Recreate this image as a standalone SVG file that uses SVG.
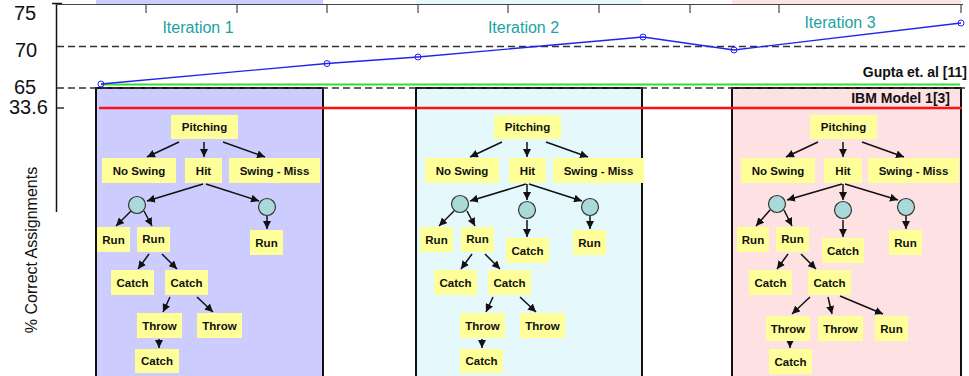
<svg xmlns="http://www.w3.org/2000/svg" width="969" height="376" viewBox="0 0 969 376">
<style>
.nd rect{fill:#ffff99;stroke:none}
.nd text{font-family:"Liberation Sans",Arial,sans-serif;font-weight:bold;font-size:11.5px;fill:#111;text-anchor:middle}
.cir{fill:#a9d9d9;stroke:#333;stroke-width:1.2}
.ar line{stroke:#111;stroke-width:1.5;marker-end:url(#ah)}
.ax{font-family:"Liberation Sans",Arial,sans-serif;font-size:20px;fill:#111}
.it{font-family:"Liberation Sans",Arial,sans-serif;font-size:16px;fill:#1aa3a3;text-anchor:middle}
.bl{font-family:"Liberation Sans",Arial,sans-serif;font-size:14px;font-weight:bold;fill:#111;text-anchor:end}
.dash{stroke:#333;stroke-width:1.5;stroke-dasharray:7 4}
.tick{stroke:#444;stroke-width:1.2}
.pt{fill:none;stroke:#2222ff;stroke-width:1}
</style>
<defs>
<marker id="ah" markerUnits="userSpaceOnUse" markerWidth="9" markerHeight="8" refX="8" refY="4" orient="auto">
<path d="M0,0 L8,4 L0,8 Z" fill="#111"/>
</marker>
</defs>
<rect width="969" height="376" fill="#fff"/>

<!-- panels -->
<g id="panels">
<rect x="96" y="88" width="227" height="290" fill="#ccccff" stroke="#111" stroke-width="2"/>
<rect x="416" y="88" width="226" height="290" fill="#e5f8fb" stroke="#111" stroke-width="2"/>
<rect x="732" y="88" width="229" height="290" fill="#fde1e3" stroke="#111" stroke-width="2"/>
<rect x="96" y="0" width="227" height="4" fill="#ccccff"/>
<rect x="416" y="0" width="226" height="4" fill="#e5f8fb"/>
<rect x="732" y="0" width="229" height="4" fill="#fde1e3"/>
</g>

<!-- chart axes -->
<g id="axes">
<line x1="56.5" y1="3" x2="56.5" y2="212" stroke="#111" stroke-width="1.5"/>
<line x1="52" y1="3.5" x2="62" y2="3.5" stroke="#111" stroke-width="1.5"/>
<line x1="56" y1="4.5" x2="963" y2="4.5" stroke="#444" stroke-width="1.2"/>
<line x1="56" y1="108" x2="64" y2="108" stroke="#111" stroke-width="1.3"/>
<line class="tick" x1="146" y1="4" x2="146" y2="13"/>
<line class="tick" x1="237" y1="4" x2="237" y2="13"/>
<line class="tick" x1="327" y1="4" x2="327" y2="13"/>
<line class="tick" x1="418" y1="4" x2="418" y2="13"/>
<line class="tick" x1="508" y1="4" x2="508" y2="13"/>
<line class="tick" x1="599" y1="4" x2="599" y2="13"/>
<line class="tick" x1="690" y1="4" x2="690" y2="13"/>
<line class="tick" x1="779" y1="4" x2="779" y2="13"/>
<line class="tick" x1="961" y1="4" x2="961" y2="13"/>
<text class="ax" x="14" y="20">75</text>
<text class="ax" x="15" y="57">70</text>
<text class="ax" x="14" y="94">65</text>
<text class="ax" x="9" y="114">33.6</text>
<text transform="translate(36.5,250) rotate(-90)" font-family="Liberation Sans, Arial, sans-serif" font-size="16" fill="#111" text-anchor="middle">% Correct Assignments</text>
</g>

<g id="reference-lines">
<line class="dash" x1="57" y1="46.5" x2="965" y2="46.5"/>
<line class="dash" x1="57" y1="88" x2="965" y2="88"/>
<line x1="101" y1="84.5" x2="960" y2="84.5" stroke="#33dd33" stroke-width="1.8"/>
<line x1="99" y1="108" x2="962" y2="108" stroke="#ff1111" stroke-width="2.5"/>
<text class="bl" x="967" y="77">Gupta et. al [11]</text>
<text class="bl" x="950" y="103">IBM Model 1[3]</text>
</g>

<g id="series">
<polyline points="101,84 327,63.5 418,57 643,37 734,50 961,23" fill="none" stroke="#2222ee" stroke-width="1.3"/>
<circle class="pt" cx="101" cy="84" r="3"/>
<circle class="pt" cx="327" cy="63.5" r="3"/>
<circle class="pt" cx="418" cy="57" r="3"/>
<circle class="pt" cx="643" cy="37" r="3"/>
<circle class="pt" cx="734" cy="50" r="3"/>
<circle class="pt" cx="961" cy="23" r="3"/>
</g>

<g id="iteration-labels">
<text class="it" x="198" y="33">Iteration 1</text>
<text class="it" x="523.5" y="33">Iteration 2</text>
<text class="it" x="840" y="28">Iteration 3</text>
</g>

<!-- connectors -->
<g id="connectors" class="ar">
<!-- panel 1 -->
<line x1="179" y1="142" x2="147" y2="157"/>
<line x1="204" y1="142" x2="204" y2="157"/>
<line x1="223" y1="142" x2="265" y2="157"/>
<line x1="203" y1="184" x2="147" y2="201"/>
<line x1="206" y1="184" x2="259" y2="201"/>
<line x1="131" y1="211" x2="116" y2="226"/>
<line x1="144" y1="211" x2="152" y2="226"/>
<line x1="267" y1="216" x2="267" y2="229"/>
<line x1="149" y1="254" x2="138" y2="269"/>
<line x1="162" y1="254" x2="177" y2="269"/>
<line x1="170" y1="297" x2="163" y2="312"/>
<line x1="197" y1="297" x2="213" y2="312"/>
<line x1="159" y1="339" x2="159" y2="348"/>
<!-- panel 2 -->
<line x1="502" y1="142" x2="470" y2="157"/>
<line x1="527" y1="142" x2="527" y2="157"/>
<line x1="546" y1="142" x2="588" y2="157"/>
<line x1="526" y1="184" x2="470" y2="201"/>
<line x1="527" y1="184" x2="527" y2="200"/>
<line x1="529" y1="184" x2="582" y2="201"/>
<line x1="527" y1="220" x2="527" y2="237"/>
<line x1="454" y1="211" x2="439" y2="226"/>
<line x1="467" y1="211" x2="475" y2="226"/>
<line x1="590" y1="216" x2="590" y2="229"/>
<line x1="472" y1="254" x2="461" y2="269"/>
<line x1="485" y1="254" x2="500" y2="269"/>
<line x1="493" y1="297" x2="486" y2="312"/>
<line x1="520" y1="297" x2="536" y2="312"/>
<line x1="482" y1="339" x2="482" y2="348"/>
<!-- panel 3 -->
<line x1="818" y1="142" x2="786" y2="157"/>
<line x1="843" y1="142" x2="843" y2="157"/>
<line x1="862" y1="142" x2="904" y2="157"/>
<line x1="842" y1="184" x2="787" y2="200"/>
<line x1="843" y1="184" x2="843" y2="200"/>
<line x1="845" y1="184" x2="898" y2="200"/>
<line x1="843" y1="220" x2="843" y2="237"/>
<line x1="770" y1="210" x2="756" y2="226"/>
<line x1="784" y1="210" x2="792" y2="226"/>
<line x1="906" y1="216" x2="906" y2="229"/>
<line x1="788" y1="254" x2="777" y2="269"/>
<line x1="801" y1="254" x2="816" y2="269"/>
<line x1="810" y1="297" x2="792" y2="314"/>
<line x1="828" y1="297" x2="832" y2="314"/>
<line x1="840" y1="296" x2="883" y2="314"/>
<line x1="790" y1="341" x2="790" y2="348"/>
</g>

<!-- panel 1 nodes -->
<g id="p1-pitching" class="nd"><rect x="171" y="115" width="67" height="24"/><text x="204.5" y="131">Pitching</text></g>
<g id="p1-noswing" class="nd"><rect x="102" y="158" width="74" height="25"/><text x="139" y="174.5">No Swing</text></g>
<g id="p1-hit" class="nd"><rect x="185" y="158" width="37" height="25"/><text x="203.5" y="174.5">Hit</text></g>
<g id="p1-swingmiss" class="nd"><rect x="229" y="158" width="91" height="25"/><text x="274.5" y="174.5">Swing - Miss</text></g>
<g id="p1-c1"><circle class="cir" cx="137" cy="205" r="8.5"/></g>
<g id="p1-c2"><circle class="cir" cx="267" cy="207" r="8.5"/></g>
<g id="p1-run1" class="nd"><rect x="97" y="227" width="33" height="25"/><text x="113.5" y="243.5">Run</text></g>
<g id="p1-run2" class="nd"><rect x="137" y="227" width="33" height="25"/><text x="153.5" y="242.5">Run</text></g>
<g id="p1-run3" class="nd"><rect x="250" y="230" width="33" height="25"/><text x="266.5" y="246.5">Run</text></g>
<g id="p1-catch1" class="nd"><rect x="111" y="270" width="43" height="25"/><text x="132.5" y="286.5">Catch</text></g>
<g id="p1-catch2" class="nd"><rect x="165" y="270" width="43" height="25"/><text x="186.5" y="286.5">Catch</text></g>
<g id="p1-throw1" class="nd"><rect x="137" y="313" width="45" height="25"/><text x="159.5" y="329.5">Throw</text></g>
<g id="p1-throw2" class="nd"><rect x="197" y="313" width="45" height="25"/><text x="219.5" y="329.5">Throw</text></g>
<g id="p1-catch3" class="nd"><rect x="135" y="349" width="44" height="24"/><text x="157" y="365">Catch</text></g>

<!-- panel 2 nodes -->
<g id="p2-pitching" class="nd"><rect x="494" y="115" width="67" height="24"/><text x="527.5" y="131">Pitching</text></g>
<g id="p2-noswing" class="nd"><rect x="425" y="158" width="74" height="25"/><text x="462" y="174.5">No Swing</text></g>
<g id="p2-hit" class="nd"><rect x="509" y="158" width="37" height="25"/><text x="527.5" y="174.5">Hit</text></g>
<g id="p2-swingmiss" class="nd"><rect x="553" y="158" width="91" height="25"/><text x="598.5" y="174.5">Swing - Miss</text></g>
<g id="p2-c1"><circle class="cir" cx="460" cy="204" r="8.5"/></g>
<g id="p2-c2"><circle class="cir" cx="527" cy="210" r="8.5"/></g>
<g id="p2-c3"><circle class="cir" cx="590" cy="207" r="8.5"/></g>
<g id="p2-run1" class="nd"><rect x="420" y="227" width="33" height="25"/><text x="436.5" y="243.5">Run</text></g>
<g id="p2-run2" class="nd"><rect x="461" y="227" width="33" height="25"/><text x="477.5" y="242.5">Run</text></g>
<g id="p2-catchmid" class="nd"><rect x="506" y="238" width="43" height="25"/><text x="527.5" y="254.5">Catch</text></g>
<g id="p2-run3" class="nd"><rect x="573" y="230" width="33" height="25"/><text x="589.5" y="246.5">Run</text></g>
<g id="p2-catch1" class="nd"><rect x="434" y="270" width="43" height="25"/><text x="455.5" y="286.5">Catch</text></g>
<g id="p2-catch2" class="nd"><rect x="488" y="270" width="43" height="25"/><text x="509.5" y="286.5">Catch</text></g>
<g id="p2-throw1" class="nd"><rect x="460" y="313" width="45" height="25"/><text x="482.5" y="329.5">Throw</text></g>
<g id="p2-throw2" class="nd"><rect x="520" y="313" width="45" height="25"/><text x="542.5" y="329.5">Throw</text></g>
<g id="p2-catch3" class="nd"><rect x="460" y="349" width="43" height="24"/><text x="481.5" y="365">Catch</text></g>

<!-- panel 3 nodes -->
<g id="p3-pitching" class="nd"><rect x="810" y="115" width="67" height="24"/><text x="843.5" y="131">Pitching</text></g>
<g id="p3-noswing" class="nd"><rect x="741" y="158" width="74" height="25"/><text x="778" y="174.5">No Swing</text></g>
<g id="p3-hit" class="nd"><rect x="824" y="158" width="38" height="25"/><text x="843" y="174.5">Hit</text></g>
<g id="p3-swingmiss" class="nd"><rect x="868" y="158" width="91" height="25"/><text x="913.5" y="174.5">Swing - Miss</text></g>
<g id="p3-c1"><circle class="cir" cx="777" cy="204" r="8.5"/></g>
<g id="p3-c2"><circle class="cir" cx="843" cy="210" r="8.5"/></g>
<g id="p3-c3"><circle class="cir" cx="906" cy="207" r="8.5"/></g>
<g id="p3-run1" class="nd"><rect x="737" y="227" width="32" height="25"/><text x="753" y="243.5">Run</text></g>
<g id="p3-run2" class="nd"><rect x="776" y="227" width="33" height="25"/><text x="792.5" y="242.5">Run</text></g>
<g id="p3-catchmid" class="nd"><rect x="822" y="238" width="42" height="25"/><text x="843" y="254.5">Catch</text></g>
<g id="p3-run3" class="nd"><rect x="889" y="230" width="33" height="25"/><text x="905.5" y="246.5">Run</text></g>
<g id="p3-catch1" class="nd"><rect x="749" y="270" width="43" height="25"/><text x="770.5" y="286.5">Catch</text></g>
<g id="p3-catch2" class="nd"><rect x="808" y="270" width="43" height="25"/><text x="829.5" y="286.5">Catch</text></g>
<g id="p3-throw1" class="nd"><rect x="766" y="316" width="44" height="25"/><text x="788" y="332.5">Throw</text></g>
<g id="p3-throw2" class="nd"><rect x="818" y="316" width="45" height="25"/><text x="840.5" y="332.5">Throw</text></g>
<g id="p3-run4" class="nd"><rect x="875" y="316" width="33" height="25"/><text x="891.5" y="332.5">Run</text></g>
<g id="p3-catch3" class="nd"><rect x="769" y="349" width="43" height="25"/><text x="790.5" y="365.5">Catch</text></g>
</svg>
